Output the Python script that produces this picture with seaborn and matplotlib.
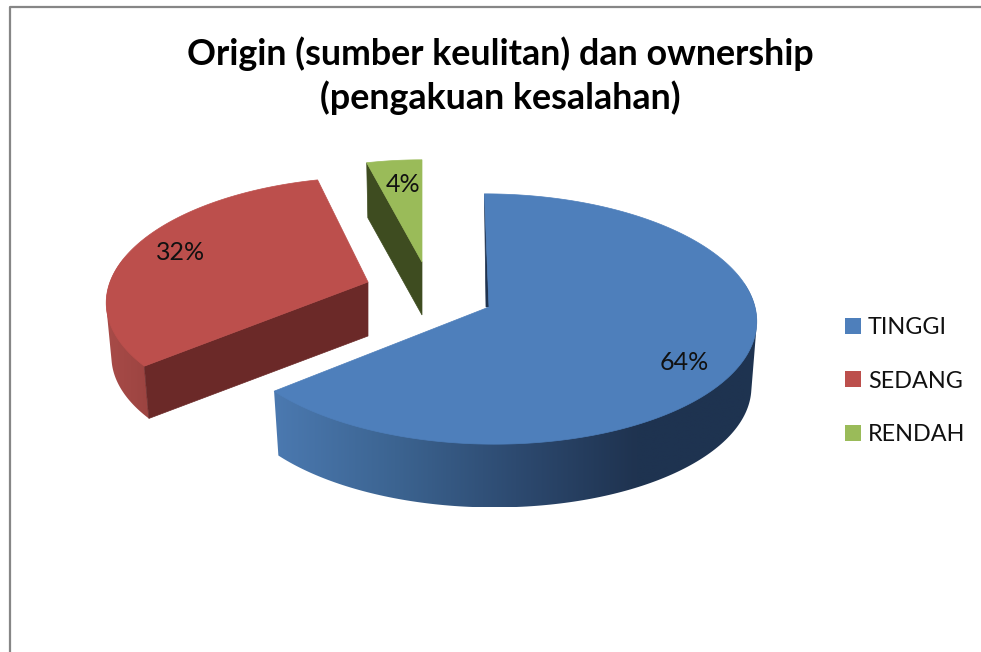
import numpy as np
import matplotlib
matplotlib.use('Agg')
import matplotlib.pyplot as plt
from matplotlib.patches import Patch, Polygon
import seaborn as sns

# Data
categories = ['TINGGI', 'SEDANG', 'RENDAH']
values = [64, 32, 4]
title = 'Origin (sumber keulitan) dan ownership\n(pengakuan kesalahan)'

sns.set_theme(style='white')
plt.rcParams['font.family'] = ['Lato', 'DejaVu Sans']

top_colors = sns.color_palette(['#4E7FBB', '#BC4F4C', '#9ABB59'])
dark_blue = sns.blend_palette(['#4B79B0', '#3C6491', '#2D4A70', '#1F3350', '#1E3350'], as_cmap=True)
dark_red = sns.blend_palette(['#A84B48', '#9C4441'], as_cmap=True)
dark_green = sns.blend_palette(['#3E4C20', '#3E4C20'], as_cmap=True)
side_cmaps = [dark_blue, dark_red, dark_green]
face_colors = ['#1F3350', '#6B2928', '#3E4C20']

# Geometry of every exploded slice, in pixels of the picture
apex_x = [489, 368, 422]
apex_y = [307, 282, 262]
radius_x = [266, 258, 243]
radius_y = [124, 120, 112]
shear = [5, -7, 0]
persp = [0.096, 0.143, 0.096]
depth = [66, 54, 53]
label_xy = [(684, 362), (181, 252), (403, 184)]
bottom_scale = 0.98


def project(i, theta, scale=1.0, dz=0):
    # theta in degrees, clockwise from the top of the pie
    t = np.radians(theta)
    u, v = np.sin(t), -np.cos(t)
    w = 1 - persp[i] * v
    x = apex_x[i] + scale * (radius_x[i] * u + shear[i] * v) / w
    y = apex_y[i] + dz + scale * radius_y[i] * v / w
    return x, y


def hull(points):
    # convex outline of the wall, monotone chain
    pts = sorted(map(tuple, points))

    def half(seq):
        out = []
        for p in seq:
            while len(out) > 1 and ((out[-1][0] - out[-2][0]) * (p[1] - out[-2][1])
                                    - (out[-1][1] - out[-2][1]) * (p[0] - out[-2][0])) <= 0:
                out.pop()
            out.append(p)
        return out[:-1]

    return np.array(half(pts) + half(pts[::-1]))


fig = plt.figure(figsize=(9.81, 6.52), dpi=100)
ax = fig.add_axes([0, 0, 1, 1])
ax.axis('off')

# Chart border
ax.plot([10, 10, 981], [652, 7, 7], color='#868686', lw=1.6, solid_capstyle='butt')

starts = np.cumsum([0] + values[:-1]) * 3.6
ends = np.cumsum(values) * 3.6

# Back to front: green, red, blue
for i in [2, 1, 0]:
    thetas = np.linspace(starts[i], ends[i], 240)
    tx, ty = project(i, thetas)
    bx, by = project(i, thetas, bottom_scale, depth[i])

    # outer wall, only the part facing the viewer, filled with a clipped gradient
    front = np.cos(np.radians(thetas)) <= 0.2
    if front.any():
        wall = hull(np.c_[np.r_[tx[front], bx[front]], np.r_[ty[front], by[front]]])
        patch = Polygon(wall, closed=True, facecolor='none', edgecolor='none', transform=ax.transData)
        ax.add_patch(patch)
        grad = np.linspace(0, 1, 256)[None, :]
        im = ax.imshow(grad, cmap=side_cmaps[i], aspect='auto', interpolation='bilinear',
                       extent=[wall[:, 0].min(), wall[:, 0].max(), wall[:, 1].max(), wall[:, 1].min()])
        im.set_clip_path(patch)

    ax_top, ay_top = apex_x[i], apex_y[i]
    if i == 0:
        # only a thin sliver of the inner wall shows
        ax.fill([tx[0], ax_top, ax_top - 3], [ty[0], ay_top, ay_top], color=face_colors[i], lw=0.5)
    else:
        ax.fill([tx[0], ax_top, ax_top, bx[0]], [ty[0], ay_top, ay_top + depth[i], by[0]],
                color=face_colors[i], lw=0.5)

    ax.fill(np.r_[ax_top, tx], np.r_[ay_top, ty], color=top_colors[i], lw=0.5)

    ax.text(label_xy[i][0], label_xy[i][1], f'{values[i]}%', ha='center', va='center',
            fontsize=18, color='#111111')

ax.set_xlim(0, 981)
ax.set_ylim(652, 0)

ax.text(500, 75.5, title, ha='center', va='center', fontsize=25.8, fontweight='bold',
        color='black', linespacing=1.34)

handles = [Patch(facecolor=c, edgecolor='none') for c in top_colors]
ax.legend(handles, categories, loc='center left', bbox_to_anchor=(845, 381), bbox_transform=ax.transData,
          frameon=False, fontsize=16.8, handlelength=0.69, handleheight=0.69, handletextpad=0.3,
          labelspacing=1.39, borderpad=0, borderaxespad=0, labelcolor='#111111')

fig.savefig('out.png', dpi=100)
